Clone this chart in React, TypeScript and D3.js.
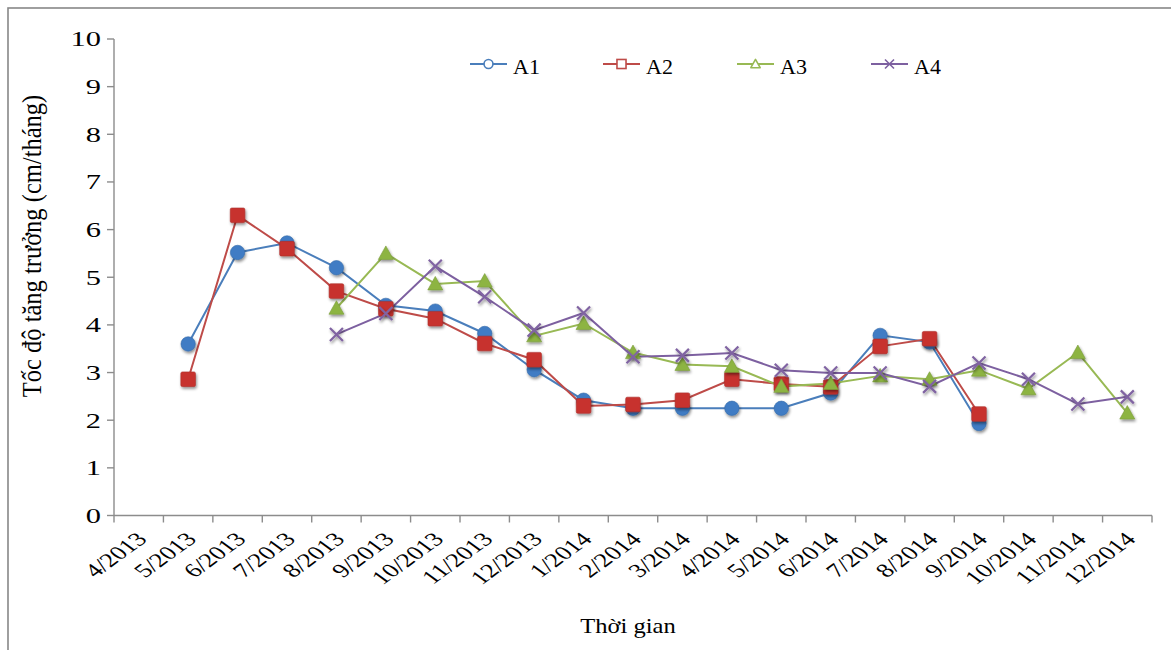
import React from "react";
import * as d3 from "d3";

const months = [
  "4/2013", "5/2013", "6/2013", "7/2013", "8/2013", "9/2013", "10/2013",
  "11/2013", "12/2013", "1/2014", "2/2014", "3/2014", "4/2014", "5/2014",
  "6/2014", "7/2014", "8/2014", "9/2014", "10/2014", "11/2014", "12/2014",
];

type V = number | null;

const a1: V[] = [null, 3.6, 5.52, 5.72, 5.2, 4.41, 4.29, 3.82, 3.06, 2.42, 2.25, 2.25, 2.25, 2.25, 2.57, 3.78, 3.64, 1.93, null, null, null];
const a2: V[] = [null, 2.86, 6.3, 5.6, 4.71, 4.34, 4.13, 3.61, 3.27, 2.3, 2.33, 2.42, 2.86, 2.76, 2.7, 3.55, 3.71, 2.13, null, null, null];
const a3: V[] = [null, null, null, null, 4.35, 5.5, 4.86, 4.92, 3.77, 4.03, 3.42, 3.17, 3.13, 2.71, 2.77, 2.93, 2.86, 3.05, 2.66, 3.42, 2.15];
const a4: V[] = [null, null, null, null, 3.8, 4.24, 5.23, 4.59, 3.89, 4.25, 3.33, 3.36, 3.41, 3.05, 2.99, 2.99, 2.71, 3.2, 2.86, 2.34, 2.49];

const yTicks = [0, 1, 2, 3, 4, 5, 6, 7, 8, 9, 10];

const seriesNames = ["A1", "A2", "A3", "A4"];
const seriesValues = [a1, a2, a3, a4];
const lineColors = ["#4A7EBB", "#BE4B48", "#98B954", "#7D60A0"];
const fillColors = ["#3F7CC4", "#C7332F", "#8DB443", "#8064A2"];
const shapes = ["circle", "square", "triangle", "cross"];

const W = 1171;
const H = 650;
const left = 114;
const right = 1152;
const top = 39;
const bottom = 515.5;
const FONT = "'Liberation Serif', 'Times New Roman', serif";

const x = d3.scaleBand<string>().domain(months).range([left, right]);
const y = d3.scaleLinear().domain([0, 10]).range([bottom, top]);

function Marker({ shape, cx, cy, fill, stroke, hollow }: { shape: string; cx: number; cy: number; fill: string; stroke: string; hollow?: boolean }) {
  const f = hollow ? "#fff" : fill;
  const sw = hollow ? 1.6 : 0.6;
  const sc = hollow ? 0.62 : 1;
  if (shape === "circle") {
    return <circle cx={cx} cy={cy} r={7.2 * sc} fill={f} stroke={stroke} strokeWidth={sw} />;
  }
  if (shape === "square") {
    const s = 7.3 * sc;
    return <rect x={cx - s} y={cy - s} width={2 * s} height={2 * s} rx={hollow ? 0 : 1.5} fill={f} stroke={stroke} strokeWidth={sw} />;
  }
  if (shape === "triangle") {
    const s = 7.5 * sc;
    const p = `${cx},${cy - s} ${cx + s},${cy + s * 0.8} ${cx - s},${cy + s * 0.8}`;
    return <polygon points={p} fill={f} stroke={stroke} strokeWidth={sw} strokeLinejoin="round" />;
  }
  const s = hollow ? 4.5 : 6.5;
  return (
    <path
      d={`M${cx - s},${cy - s}L${cx + s},${cy + s}M${cx - s},${cy + s}L${cx + s},${cy - s}`}
      stroke={fill}
      strokeWidth={hollow ? 1.6 : 2.2}
      fill="none"
    />
  );
}

export default function App() {
  const line = d3
    .line<V>()
    .defined((d) => d !== null)
    .x((_, i) => (x(months[i]) as number) + x.bandwidth() / 2)
    .y((d) => y(d as number));

  const tickXs = d3.range(months.length + 1).map((i) => left + i * x.step());
  const legendX = [470, 603, 737, 871];

  return (
    <svg width={W} height={H} style={{ position: "absolute", left: 0, top: 0, background: "#fff" }} fontFamily={FONT}>
      <defs>
        <filter id="shadow" x="-50%" y="-50%" width="200%" height="200%">
          <feGaussianBlur in="SourceAlpha" stdDeviation="1.6" />
          <feOffset dx="0.5" dy="1.8" result="b" />
          <feComponentTransfer>
            <feFuncA type="linear" slope="0.45" />
          </feComponentTransfer>
          <feMerge>
            <feMergeNode />
            <feMergeNode in="SourceGraphic" />
          </feMerge>
        </filter>
      </defs>
      <rect x={8} y={8} width={W + 20} height={H + 20} fill="none" stroke="#878787" strokeWidth={1.6} />

      {/* y axis */}
      <line x1={left} x2={left} y1={top} y2={bottom} stroke="#8C8C8C" strokeWidth={1.4} />
      {yTicks.map((t) => (
        <g key={t}>
          <line x1={left - 7} x2={left} y1={y(t)} y2={y(t)} stroke="#8C8C8C" strokeWidth={1.4} />
          <text
            transform={`translate(${left - 13},${y(t)}) scale(1.45,1)`}
            textAnchor="end"
            dy="0.35em"
            fontSize={21}
            fill="#000"
          >
            {t}
          </text>
        </g>
      ))}

      {/* x axis */}
      <line x1={left} x2={right} y1={bottom} y2={bottom} stroke="#8C8C8C" strokeWidth={1.4} />
      {tickXs.map((tx, i) => (
        <line key={i} x1={tx} x2={tx} y1={bottom} y2={bottom + 7} stroke="#8C8C8C" strokeWidth={1.4} />
      ))}
      {months.map((m) => {
        const cx = (x(m) as number) + x.bandwidth() / 2 + 3;
        const cy = bottom + 20;
        return (
          <text
            key={m}
            transform={`translate(${cx},${cy}) scale(1.38,1) rotate(-45)`}
            textAnchor="end"
            dy="0.35em"
            fontSize={19.5}
            fill="#000"
          >
            {m}
          </text>
        );
      })}

      {/* axis titles */}
      <text transform={`translate(41,246) scale(1.1,1) rotate(-90)`} textAnchor="middle" fontSize={24.5} fill="#000">
        Tốc độ tăng trưởng (cm/tháng)
      </text>
      <text transform="translate(628,633) scale(1.17,1)" textAnchor="middle" fontSize={21} fill="#000">
        Thời gian
      </text>

      {/* series */}
      {seriesValues.map((vals, si) => (
        <path key={`l${si}`} d={line(vals) || ""} fill="none" stroke={lineColors[si]} strokeWidth={2} />
      ))}
      {seriesValues.map((vals, si) => (
        <g key={`m${si}`} filter="url(#shadow)">
          {vals.map((v, i) =>
            v === null ? null : (
              <Marker
                key={i}
                shape={shapes[si]}
                cx={(x(months[i]) as number) + x.bandwidth() / 2}
                cy={y(v)}
                fill={fillColors[si]}
                stroke={d3.color(fillColors[si])!.darker(0.4).toString()}
              />
            )
          )}
        </g>
      ))}

      {/* legend */}
      {seriesNames.map((name, si) => (
        <g key={name}>
          <line x1={legendX[si]} x2={legendX[si] + 37} y1={64} y2={64} stroke={lineColors[si]} strokeWidth={2} />
          <Marker shape={shapes[si]} cx={legendX[si] + 18.5} cy={64} fill={lineColors[si]} stroke={lineColors[si]} hollow />
          <text x={legendX[si] + 43} y={66} dy="0.35em" fontSize={22} fill="#000">
            {name}
          </text>
        </g>
      ))}
    </svg>
  );
}
